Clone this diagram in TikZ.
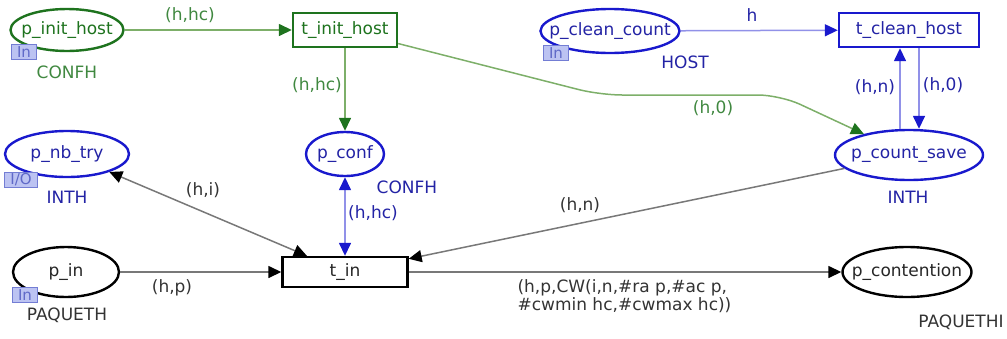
\documentclass[tikz,border=0pt]{standalone}
\usepackage{fontspec}
\setmainfont{DejaVu Sans}
\usetikzlibrary{shapes.geometric, arrows.meta}

\definecolor{cpngreen}{RGB}{30,115,30}
\definecolor{cpngreenarc}{RGB}{125,175,105}
\definecolor{cpnblue}{RGB}{25,25,205}
\definecolor{cpnbluetext}{RGB}{35,35,165}
\definecolor{cpnbluearc}{RGB}{145,145,232}
\definecolor{cpngrayarc}{RGB}{120,120,120}
\definecolor{tagfill}{RGB}{188,195,242}
\definecolor{tagdraw}{RGB}{115,125,212}
\definecolor{tagtext}{RGB}{95,105,200}

\begin{document}
\begin{tikzpicture}[
        x=1pt, y=-1pt,
        every node/.style={font=\fontsize{17}{15.5}\selectfont},
        place/.style={ellipse, draw, line width=2.4pt, fill=white, inner xsep=-60pt, inner ysep=-15pt},
        trans/.style={rectangle, draw, line width=2.4pt, fill=white, inner sep=0pt},
        gnode/.style={draw=cpngreen, text=cpngreen},
        bnode/.style={draw=cpnblue, text=cpnbluetext},
        knode/.style={draw=black, text=black!85},
        tag/.style={rectangle, draw=tagdraw, fill=tagfill, text=tagtext, line width=1.2pt,
            inner sep=0pt, minimum height=15pt, font=\fontsize{15}{15}\selectfont},
        glabel/.style={text=cpngreen!85!white},
        blabel/.style={text=cpnbluetext},
        klabel/.style={text=black!80},
        garc/.style={line width=1.5pt, draw=cpngreenarc, -{Triangle[length=13pt, width=12pt, color=cpngreen]}},
        barc/.style={line width=1.5pt, draw=cpnbluearc, -{Triangle[length=13pt, width=12pt, color=cpnblue]}},
        bbiarc/.style={line width=1.5pt, draw=cpnbluearc, {Triangle[length=13pt, width=12pt, color=cpnblue]}-{Triangle[length=13pt, width=12pt, color=cpnblue]}},
        karc/.style={line width=1.5pt, draw=cpngrayarc, -{Triangle[length=13pt, width=12pt, color=black]}},
        kbiarc/.style={line width=1.5pt, draw=cpngrayarc, {Triangle[length=13pt, width=12pt, color=black]}-{Triangle[length=13pt, width=12pt, color=black]}},
    ]
    \useasboundingbox (0,0) rectangle (1007,338);

    % places and transitions
    \node[place, gnode, minimum width=113pt, minimum height=42pt] (pinithost) at (67,30) {p\_init\_host};
    \node[trans, gnode, minimum width=104pt, minimum height=34pt] (tinithost) at (345,30) {t\_init\_host};
    \node[place, bnode, minimum width=139pt, minimum height=44pt] (pcleancount) at (610,31) {p\_clean\_count};
    \node[trans, bnode, minimum width=140pt, minimum height=34pt] (tcleanhost) at (909,30) {t\_clean\_host};
    \node[place, bnode, minimum width=124pt, minimum height=46pt] (pnbtry) at (67,154) {p\_nb\_try};
    \node[place, bnode, minimum width=78pt, minimum height=44pt] (pconf) at (345,154) {p\_conf};
    \node[place, bnode, minimum width=148pt, minimum height=50pt] (pcountsave) at (909,155) {p\_count\_save};
    \node[place, knode, minimum width=106pt, minimum height=50pt] (pin) at (66,272) {p\_in};
    \node[trans, knode, minimum width=125pt, minimum height=30pt] (tin) at (345,272) {t\_in};
    \node[place, knode, minimum width=129pt, minimum height=50pt] (pcontention) at (907,272) {p\_contention};

    % colour sets
    \node[glabel] (typeinit) at (67,72) {CONFH};
    \node[blabel] (typeclean) at (685,62) {HOST};
    \node[blabel] (typenbtry) at (67,197) {INTH};
    \node[blabel] (typeconf) at (407,187) {CONFH};
    \node[blabel] (typesave) at (908,197) {INTH};
    \node[klabel] (typein) at (67,315) {PAQUETH};
    \node[klabel] (typecont) at (961,322) {PAQUETHI};

    % port tags
    \node[tag, minimum width=25pt] (taginit) at (24,52) {In};
    \node[tag, minimum width=25pt] (tagclean) at (556,53) {In};
    \node[tag, minimum width=33pt] (tagnbtry) at (21,180) {I/O};
    \node[tag, minimum width=25pt] (tagin) at (25,295) {In};

    % arcs
    \draw[garc] (pinithost) -- (tinithost);
    \draw[garc] (tinithost) -- (pconf);
    \draw[garc, rounded corners=22pt] (tinithost) -- (600,95) -- (780,95) -- (pcountsave);
    \draw[barc] (pcleancount) -- (tcleanhost);
    \draw[barc] ([xshift=-9pt]pcountsave.north) -- ([xshift=-9pt]tcleanhost.south);
    \draw[barc] ([xshift=10pt]tcleanhost.south) -- ([xshift=10pt]pcountsave.north);
    \draw[kbiarc] (tin) -- (pnbtry);
    \draw[bbiarc] (pconf) -- (tin);
    \draw[karc] (pcountsave) -- (tin);
    \draw[karc] (pin) -- (tin);
    \draw[karc] (tin) -- (pcontention);

    % arc inscriptions
    \node[glabel] (lbinit) at (190,15) {(h,hc)};
    \node[glabel] (lbconf) at (317,85) {(h,hc)};
    \node[glabel] (lbsave) at (713,108) {(h,0)};
    \node[blabel] (lbclean) at (752,15) {h};
    \node[blabel] (lbup) at (875,87) {(h,n)};
    \node[blabel] (lbdown) at (943,85) {(h,0)};
    \node[klabel] (lbnbtry) at (203,190) {(h,i)};
    \node[blabel] (lbtin) at (373,213) {(h,hc)};
    \node[klabel] (lbcount) at (580,205) {(h,n)};
    \node[klabel] (lbin) at (172,288) {(h,p)};
    \node[klabel, anchor=west, align=left] (lbcont) at (514,296)
        {(h,p,CW(i,n,\#ra p,\#ac p,\\\#cwmin hc,\#cwmax hc))};
\end{tikzpicture}
\end{document}
